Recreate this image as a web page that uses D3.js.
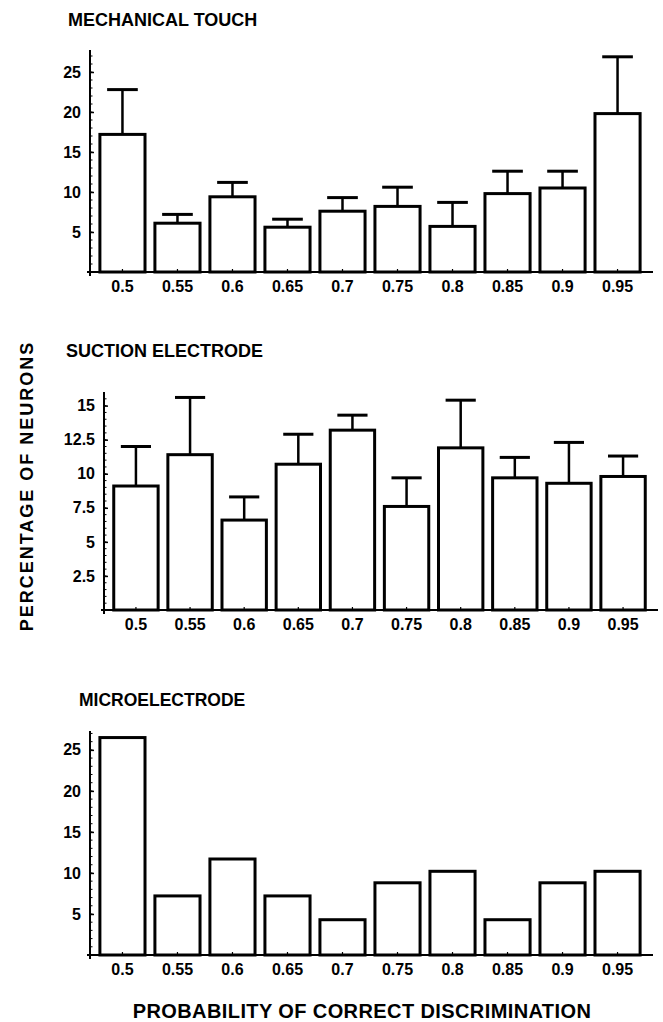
<!DOCTYPE html>
<html>
<head>
<meta charset="utf-8">
<script src="https://cdn.jsdelivr.net/npm/d3@7"></script>
<style>
  body { margin: 0; background: #fff; }
  text { font-family: "Liberation Sans", Arial, Helvetica, sans-serif; font-weight: bold; fill: #000; }
</style>
</head>
<body>
<div id="container"></div>
<script>
// Data
const categories = ["0.5", "0.55", "0.6", "0.65", "0.7", "0.75", "0.8", "0.85", "0.9", "0.95"];

// Mechanical touch: bar heights and top of the error bars
const touchValues = [17.2, 6.1, 9.4, 5.6, 7.6, 8.2, 5.7, 9.8, 10.5, 19.8];
const touchErrTop = [22.8, 7.2, 11.2, 6.6, 9.3, 10.6, 8.7, 12.6, 12.6, 26.9];
const touchTicks = [5, 10, 15, 20, 25];

// Suction electrode
const suctionValues = [9.1, 11.4, 6.6, 10.7, 13.2, 7.6, 11.9, 9.7, 9.3, 9.8];
const suctionErrTop = [12.0, 15.6, 8.3, 12.9, 14.3, 9.7, 15.4, 11.2, 12.3, 11.3];
const suctionTicks = [2.5, 5, 7.5, 10, 12.5, 15];

// Microelectrode (no error bars)
const microValues = [26.5, 7.2, 11.7, 7.2, 4.3, 8.8, 10.2, 4.3, 8.8, 10.2];
const microTicks = [5, 10, 15, 20, 25];

const svg = d3.select("#container").append("svg")
    .attr("width", 663)
    .attr("height", 1022);

function drawPanel(p) {
    const x = d3.scaleBand()
        .domain(categories)
        .range([p.left, p.right])
        .paddingInner(0.18)
        .paddingOuter(0.18);
    const y = d3.scaleLinear()
        .domain([0, p.yMax])
        .range([p.base, p.top]);

    const g = svg.append("g");

    // title
    g.append("text")
        .attr("x", p.titleX)
        .attr("y", p.titleY)
        .style("font-size", p.titleSize + "px")
        .text(p.title);

    // minor ticks on the y axis
    g.selectAll(".minor")
        .data(d3.range(p.minorStep, p.yMax, p.minorStep))
        .enter().append("line")
        .attr("x1", p.left)
        .attr("x2", p.left + 2.5)
        .attr("y1", d => y(d))
        .attr("y2", d => y(d))
        .attr("stroke", "#000")
        .attr("stroke-width", 1);

    // y axis
    const yAxis = g.append("g")
        .attr("transform", `translate(${p.left},0)`)
        .call(d3.axisLeft(y).tickValues(p.ticks).tickSize(-4).tickPadding(9).tickFormat(d3.format("")));
    yAxis.select(".domain").remove();
    yAxis.selectAll(".tick line").attr("stroke-width", 1.5);
    yAxis.selectAll(".tick text").style("font-size", "16px").style("font-family", null);
    g.append("line")
        .attr("x1", p.left).attr("x2", p.left)
        .attr("y1", p.top).attr("y2", p.base + 4)
        .attr("stroke", "#000").attr("stroke-width", 2);

    // bars
    g.selectAll(".bar")
        .data(p.values)
        .enter().append("rect")
        .attr("x", (d, i) => x(categories[i]))
        .attr("y", d => y(d))
        .attr("width", x.bandwidth())
        .attr("height", d => y(0) - y(d))
        .attr("fill", "#fff")
        .attr("stroke", "#000")
        .attr("stroke-width", 3);

    // error bars
    if (p.errTop) {
        const capW = x.bandwidth() * 0.68;
        p.errTop.forEach((e, i) => {
            const cx = x(categories[i]) + x.bandwidth() / 2;
            g.append("line")
                .attr("x1", cx).attr("x2", cx)
                .attr("y1", y(p.values[i])).attr("y2", y(e))
                .attr("stroke", "#000").attr("stroke-width", 2.5);
            g.append("line")
                .attr("x1", cx - capW / 2).attr("x2", cx + capW / 2)
                .attr("y1", y(e)).attr("y2", y(e))
                .attr("stroke", "#000").attr("stroke-width", 3);
        });
    }

    // x axis
    const xAxis = g.append("g")
        .attr("transform", `translate(0,${p.base})`)
        .call(d3.axisBottom(x).tickSize(-3).tickPadding(9));
    xAxis.select(".domain").remove();
    xAxis.selectAll(".tick line").attr("stroke-width", 1.2);
    xAxis.selectAll(".tick text").style("font-size", "16px").style("font-family", null);
    g.append("line")
        .attr("x1", p.left - 3).attr("x2", p.right + 3)
        .attr("y1", p.base).attr("y2", p.base)
        .attr("stroke", "#000").attr("stroke-width", 2);
}

drawPanel({
    title: "MECHANICAL TOUCH", titleX: 68, titleY: 26, titleSize: 18,
    left: 90, right: 650, base: 272, top: 50, yMax: 27.75,
    ticks: touchTicks, minorStep: 1,
    values: touchValues, errTop: touchErrTop
});

drawPanel({
    title: "SUCTION ELECTRODE", titleX: 66, titleY: 357, titleSize: 18,
    left: 104, right: 655, base: 610, top: 392, yMax: 16,
    ticks: suctionTicks, minorStep: 0.5,
    values: suctionValues, errTop: suctionErrTop
});

drawPanel({
    title: "MICROELECTRODE", titleX: 79, titleY: 706, titleSize: 17.5,
    left: 90, right: 650, base: 955, top: 731, yMax: 27.3,
    ticks: microTicks, minorStep: 1,
    values: microValues, errTop: null
});

// shared axis labels
svg.append("text")
    .attr("transform", "translate(33,486) rotate(-90)")
    .attr("text-anchor", "middle")
    .style("font-size", "18px")
    .style("letter-spacing", "2px")
    .text("PERCENTAGE OF NEURONS");

svg.append("text")
    .attr("x", 362)
    .attr("y", 1018)
    .attr("text-anchor", "middle")
    .style("font-size", "20px")
    .style("letter-spacing", "0.4px")
    .text("PROBABILITY OF CORRECT DISCRIMINATION");
</script>
</body>
</html>
